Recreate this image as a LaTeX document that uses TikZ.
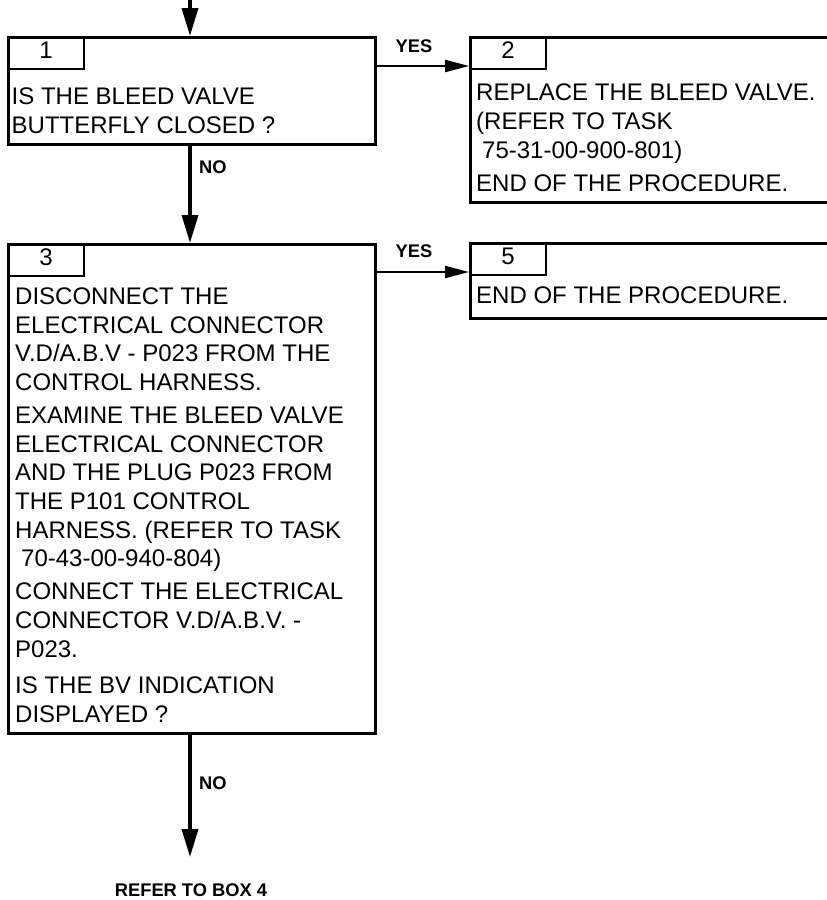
\documentclass[tikz,border=0pt]{standalone}
\usepackage{fontspec}
\setmainfont{Liberation Sans}
\usetikzlibrary{arrows.meta,calc}
\begin{document}
\begin{tikzpicture}[x=1pt,y=-1pt,
  box/.style={draw, line width=2.5pt, anchor=north west, inner sep=0pt, minimum width=#1},
  tab/.style={draw, line width=2pt, anchor=north west, inner sep=0pt, minimum width=76pt, minimum height=32pt,
    font=\fontsize{24}{28.7}\selectfont, text height=14pt, text depth=3pt},
  body/.style={anchor=base west, inner sep=0pt, align=left, font=\fontsize{24}{28.7}\selectfont},
  lbl/.style={inner sep=0pt, font=\bfseries\fontsize{18.3}{20}\selectfont},
  thick arrow/.style={line width=3.5pt, -{Triangle[width=16pt,length=28pt]}},
  thin arrow/.style={line width=2pt, -{Triangle[width=12pt,length=24pt]}}
]
\clip (0,0) rectangle (827,900);
\useasboundingbox (0,0) rectangle (827,900);

% boxes
\node[box=367pt, minimum height=107pt] (b1) at (7,36) {};
\node[tab] (t1) at (7,36) {1};
\node[body] (x1) at (11.5,133) {IS THE BLEED VALVE\\BUTTERFLY CLOSED ?};

\node[box=380pt, minimum height=165pt] (b2) at (469,36) {};
\node[tab] (t2) at (469,36) {2};
\node[body] (x2) at (476,191) {REPLACE THE BLEED VALVE.\\(REFER TO TASK\\\hspace*{6pt}75-31-00-900-801)\\[4.3pt]END OF THE PROCEDURE.};

\node[box=367pt, minimum height=489pt] (b3) at (7,243) {};
\node[tab] (t3) at (7,243) {3};
\node[body] (x3) at (15,722) {DISCONNECT THE\\ELECTRICAL CONNECTOR\\V.D/A.B.V - P023 FROM THE\\CONTROL HARNESS.\\[4.3pt]EXAMINE THE BLEED VALVE\\ELECTRICAL CONNECTOR\\AND THE PLUG P023 FROM\\THE P101 CONTROL\\HARNESS. (REFER TO TASK\\\hspace*{6pt}70-43-00-940-804)\\[4.3pt]CONNECT THE ELECTRICAL\\CONNECTOR V.D/A.B.V. -\\P023.\\[7.3pt]IS THE BV INDICATION\\DISPLAYED ?};

\node[box=380pt, minimum height=75pt] (b5) at (469,242) {};
\node[tab] (t5) at (469,242) {5};
\node[body] (x5) at (476,303) {END OF THE PROCEDURE.};

% connectors
\coordinate (start) at (190,0);
\draw[thick arrow] (start) -- (b1.north -| start);
\draw[thick arrow] (b1.south -| start) -- (b3.north -| start);
\coordinate (end) at (190,857);
\draw[thick arrow] (b3.south -| end) -- (end);

\draw[thin arrow] ($(b1.north east)+(0,30)$) -- ($(b2.north west)+(0,30)$);
\draw[thin arrow] ($(b3.north east)+(0,29)$) -- ($(b5.north west)+(0,30)$);

% labels
\node[lbl, anchor=base] (yes1) at (414,52) {YES};
\node[lbl, anchor=base] (yes2) at (414,257) {YES};
\node[lbl, anchor=base west] (no1) at (199,173) {NO};
\node[lbl, anchor=base west] (no2) at (199,789) {NO};
\node[lbl, anchor=base] (ref) at (191,896) {REFER TO BOX 4};
\end{tikzpicture}
\end{document}
